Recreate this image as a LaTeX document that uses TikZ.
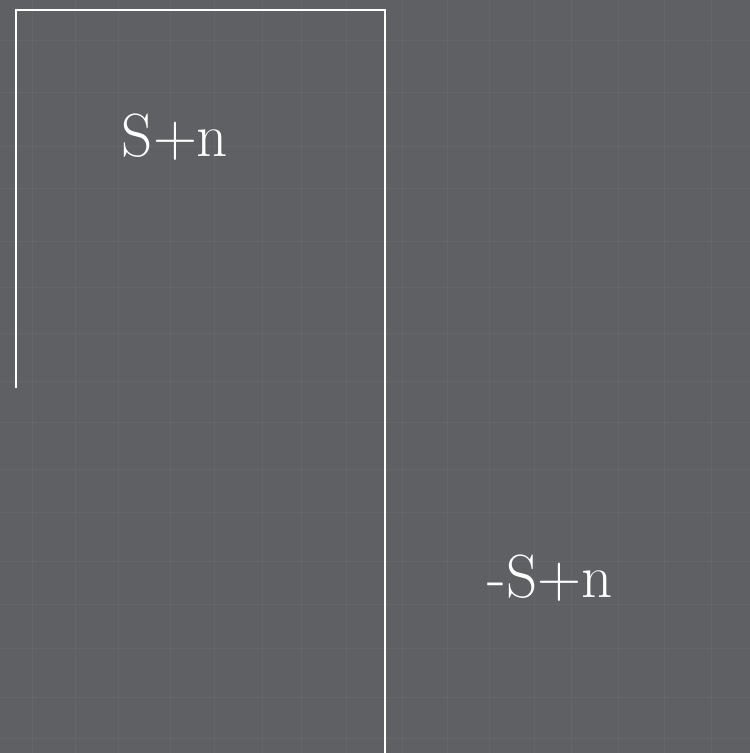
\documentclass[tikz,border=0pt]{standalone}
\definecolor{bg}{HTML}{5E6063}
\definecolor{tex}{HTML}{696B6E}
\tikzset{
  lbl/.style={text=white, font=\fontsize{61}{68}\selectfont, anchor=base, inner sep=0pt},
  frame/.style={draw=white, line width=2.4pt},
  weave/.style={draw=tex, line width=0.6pt, opacity=0.6}
}
\begin{document}
\begin{tikzpicture}[x=1pt,y=-1pt]
  \fill[bg] (0,0) rectangle (750,753);
  \useasboundingbox (0,0) rectangle (750,753);
  % faint texture
  \foreach \x in {32,75,118,170,214,262,301,346,402,447,489,534,571,618,664,711}
    \draw[weave] (\x,0) -- (\x,753);
  \foreach \y in {40,92,146,188,241,287,333,381,422,469,512,561,604,648,697,738}
    \draw[weave] (0,\y) -- (750,\y);
  \coordinate (a) at (16,388);
  \coordinate (b) at (16,10);
  \coordinate (c) at (385,10);
  \coordinate (d) at (385,753);
  \draw[frame] (a) -- (b) -- (c) -- (d);
  \node[lbl] (t1) at (175,156) {S+n};
  \node[lbl] (t2) at (550,597) {-S+n};
\end{tikzpicture}
\end{document}
